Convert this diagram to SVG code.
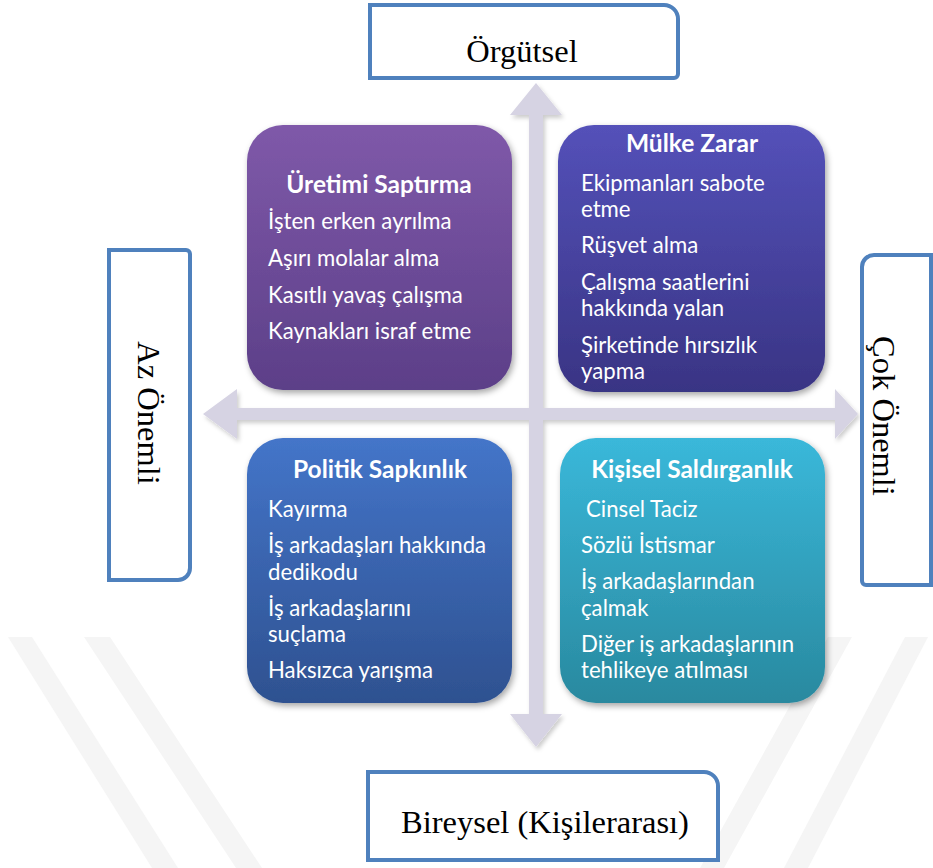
<svg xmlns="http://www.w3.org/2000/svg" width="933" height="868" viewBox="0 0 933 868">
<style>
.lbl{fill:none;stroke:#4f81bd;stroke-width:4}
.lblbg{fill:#ffffff}
.serif{font-family:"Liberation Serif","Times New Roman",serif;font-size:32.5px;fill:#000}
.t{font-family:Lato,"Noto Sans",sans-serif;font-size:22.2px;fill:#ffffff}
.h{font-family:Lato,"Noto Sans",sans-serif;font-size:24.5px;font-weight:bold;fill:#ffffff}
.arrow{fill:#d6d3e3}
.wm{fill:#f5f5f5}
</style>
<defs>
<linearGradient id="gPurple" x1="0" y1="0" x2="0" y2="1"><stop offset="0" stop-color="#7f59a9"/><stop offset="1" stop-color="#5c3f88"/></linearGradient>
<linearGradient id="gIndigo" x1="0" y1="0" x2="0" y2="1"><stop offset="0" stop-color="#5451b9"/><stop offset="1" stop-color="#393484"/></linearGradient>
<linearGradient id="gBlue" x1="0" y1="0" x2="0" y2="1"><stop offset="0" stop-color="#4475c9"/><stop offset="1" stop-color="#2e5190"/></linearGradient>
<linearGradient id="gTeal" x1="0" y1="0" x2="0" y2="1"><stop offset="0" stop-color="#3ab8da"/><stop offset="1" stop-color="#29899f"/></linearGradient>
<filter id="sh" x="-10%" y="-10%" width="125%" height="125%"><feDropShadow dx="2" dy="3" stdDeviation="3" flood-color="#000" flood-opacity="0.35"/></filter>
<filter id="ash" x="-10%" y="-10%" width="125%" height="125%"><feDropShadow dx="2" dy="3" stdDeviation="2" flood-color="#000" flood-opacity="0.2"/></filter>
</defs>
<rect width="933" height="868" fill="#ffffff"/>
<g id="watermark">
<polygon class="wm" points="8,637 32,637 178,868 152,868"/>
<polygon class="wm" points="84,637 110,637 262,868 236,868"/>
<polygon class="wm" points="905,637 928,637 808,868 784,868"/>
<polygon class="wm" points="828,637 852,637 724,868 700,868"/>
</g>
<g id="connectors" filter="url(#ash)">
<polygon class="arrow" points="536,83 562,115 543,115 543,714 562,714 536,747 510,714 529,714 529,115 510,115"/>
<polygon class="arrow" points="203,414 237,389 237,408 835,408 835,389 858,414 835,439 835,420 237,420 237,439"/>
</g>
<g id="n-orgutsel">
<path class="lblbg" d="M370,5 H664 A14,14 0 0 1 678,19 V74 A4,4 0 0 1 674,78 H370 Z"/>
<path class="lbl" d="M370,5 H664 A14,14 0 0 1 678,19 V74 A4,4 0 0 1 674,78 H370 Z"/>
<text class="serif" x="522" y="62" text-anchor="middle">Örgütsel</text>
</g>
<g id="n-az">
<path class="lblbg" d="M109,250 H186 A4,4 0 0 1 190,254 V568 A12,12 0 0 1 178,580 H109 Z"/>
<path class="lbl" d="M109,250 H186 A4,4 0 0 1 190,254 V568 A12,12 0 0 1 178,580 H109 Z"/>
<text class="serif" transform="translate(138,413) rotate(90)" text-anchor="middle">Az Önemli</text>
</g>
<g id="n-cok">
<path class="lblbg" d="M931,255 H874 A12,12 0 0 0 862,267 V581 A4,4 0 0 0 866,585 H931 Z"/>
<path class="lbl" d="M931,255 H874 A12,12 0 0 0 862,267 V581 A4,4 0 0 0 866,585 H931 Z"/>
<text class="serif" transform="translate(873,416) rotate(90)" text-anchor="middle">Çok Önemli</text>
</g>
<g id="n-bireysel">
<path class="lblbg" d="M368,772 H704 A14,14 0 0 1 718,786 V860 H368 Z"/>
<path class="lbl" d="M368,772 H704 A14,14 0 0 1 718,786 V860 H368 Z"/>
<text class="serif" x="545" y="833" text-anchor="middle">Bireysel (Kişilerarası)</text>
</g>
<g id="n-uretimi">
<rect x="247" y="125" width="265" height="265" rx="36" fill="url(#gPurple)" filter="url(#sh)"/>
<text class="h" x="379" y="193" text-anchor="middle">Üretimi Saptırma</text>
<text class="t" x="268" y="229">İşten erken ayrılma</text>
<text class="t" x="268" y="266">Aşırı molalar alma</text>
<text class="t" x="268" y="303">Kasıtlı yavaş çalışma</text>
<text class="t" x="268" y="339">Kaynakları israf etme</text>
</g>
<g id="n-mulke">
<rect x="558" y="125" width="267" height="267" rx="36" fill="url(#gIndigo)" filter="url(#sh)"/>
<text class="h" x="692" y="152" text-anchor="middle">Mülke Zarar</text>
<text class="t" x="581" y="191">Ekipmanları sabote</text>
<text class="t" x="581" y="217">etme</text>
<text class="t" x="581" y="253">Rüşvet alma</text>
<text class="t" x="581" y="290">Çalışma saatlerini</text>
<text class="t" x="581" y="316">hakkında yalan</text>
<text class="t" x="581" y="353">Şirketinde hırsızlık</text>
<text class="t" x="581" y="379">yapma</text>
</g>
<g id="n-politik">
<rect x="247" y="438" width="265" height="265" rx="36" fill="url(#gBlue)" filter="url(#sh)"/>
<text class="h" x="380" y="478" text-anchor="middle">Politik Sapkınlık</text>
<text class="t" x="268" y="517">Kayırma</text>
<text class="t" x="268" y="553">İş arkadaşları hakkında</text>
<text class="t" x="268" y="580">dedikodu</text>
<text class="t" x="268" y="616">İş arkadaşlarını</text>
<text class="t" x="268" y="642">suçlama</text>
<text class="t" x="268" y="678">Haksızca yarışma</text>
</g>
<g id="n-kisisel">
<rect x="560" y="438" width="265" height="265" rx="36" fill="url(#gTeal)" filter="url(#sh)"/>
<text class="h" x="692" y="478" text-anchor="middle">Kişisel Saldırganlık</text>
<text class="t" x="586" y="517">Cinsel Taciz</text>
<text class="t" x="581" y="553">Sözlü İstismar</text>
<text class="t" x="581" y="589">İş arkadaşlarından</text>
<text class="t" x="581" y="616">çalmak</text>
<text class="t" x="581" y="652">Diğer iş arkadaşlarının</text>
<text class="t" x="581" y="678">tehlikeye atılması</text>
</g>
</svg>
